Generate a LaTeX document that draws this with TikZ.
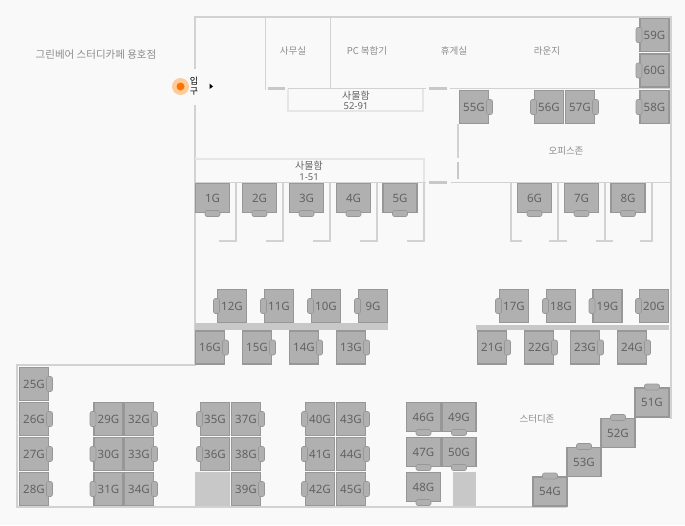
\documentclass[tikz,border=0pt]{standalone}
\usepackage{fontspec}
\setmainfont{Noto Sans}
\newfontfamily\krfont{Noto Sans CJK KR}
\definecolor{pagebg}{HTML}{F9F9F9}
\definecolor{wallcol}{HTML}{D2D2D2}
\definecolor{lightwall}{HTML}{E6E6E6}
\definecolor{blockcol}{HTML}{C8C8C8}
\definecolor{seatfill}{HTML}{B0B0B0}
\definecolor{seatline}{HTML}{979797}
\definecolor{seattext}{HTML}{626262}
\definecolor{roomtext}{HTML}{8C8C8C}
\begin{document}
\begin{tikzpicture}[x=1pt,y=-1pt,
wall/.style = {draw=wallcol, line width=1.5pt},
thinwall/.style = {draw=lightwall, line width=1.3pt},
doorstrip/.style = {draw=blockcol, line width=2.8pt},
block/.style = {fill=blockcol, draw=none},
chairbox/.style = {draw=seatline, fill=seatfill, line width=0.6pt, rounded corners=2pt, inner sep=0pt, outer sep=0pt},
seatw/.style = {draw=seatline, fill=seatfill, line width=1.2pt, inner sep=0pt, outer sep=0pt, minimum width=34pt, minimum height=29pt, text=seattext, font=\fontsize{11.5}{11.5}\selectfont},
seath/.style = {seatw, minimum width=29pt, minimum height=33pt},
chd/.style = {label={[chairbox, minimum width=15pt, minimum height=6pt, yshift=2pt]below:{}}},
chu/.style = {label={[chairbox, minimum width=15pt, minimum height=6pt, yshift=-2pt]above:{}}},
chl/.style = {label={[chairbox, minimum width=6pt, minimum height=15pt, xshift=2pt]left:{}}},
chr/.style = {label={[chairbox, minimum width=6pt, minimum height=15pt, xshift=-2pt]right:{}}},
room/.style = {text=roomtext, inner sep=0pt, font=\krfont\fontsize{9.5}{9.5}\selectfont},
locker/.style = {text=seattext, inner sep=0pt, font=\krfont\fontsize{10}{10}\selectfont},
lockernum/.style = {text=seattext, inner sep=0pt, font=\fontsize{9.5}{9.5}\selectfont},
]
\useasboundingbox (0,0) rectangle (685,525);
\fill[pagebg] (0,0) rectangle (685,525);

\draw[wall] (195,69)--(195,17)--(671,17)--(671,419);
\draw[wall] (195,105)--(195,365)--(17,365)--(17,507)--(567,507);
\draw[wall] (265.5,17)--(265.5,90);
\draw[wall] (330.5,17)--(330.5,88.5);
\draw[wall] (288,88.5)--(426,88.5);
\draw[wall] (450,88.5)--(671,88.5);
\draw[wall] (195,182.5)--(426,182.5);
\draw[wall] (451,182.5)--(671,182.5);
\draw[wall] (458,124)--(458,158);
\draw[thinwall] (288,89)--(288,111)--(423,111)--(423,89);
\draw[thinwall] (195,159)--(424,159)--(424,182);

\draw[doorstrip] (268,88.5)--(285,88.5);
\draw[doorstrip] (429,88.5)--(447,88.5);
\draw[doorstrip] (429,182.5)--(447,182.5);
\draw[doorstrip] (458,162)--(458,179);

\draw[wall] (236,183)--(236,241)--(219,241);
\draw[wall] (283,183)--(283,241)--(266,241);
\draw[wall] (330,183)--(330,241)--(313,241);
\draw[wall] (377,183)--(377,241)--(360,241);
\draw[wall] (424,183)--(424,241)--(407,241);
\draw[wall] (511,183)--(511,241)--(522,241);
\draw[wall] (558,183)--(558,241);
\draw[wall] (549,241)--(567,241);
\draw[wall] (605,183)--(605,241);
\draw[wall] (596,241)--(613,241);
\draw[wall] (652,183)--(652,241)--(640,241);

\fill[block] (195,323) rectangle (388,329.5);
\fill[block] (476,325) rectangle (669,330);
\fill[block] (195,472) rectangle (230,506);
\fill[block] (453,472) rectangle (476,506);

\node (G1) at (212.5,198)[seatw,chd] {1G};
\node (G2) at (259.5,198)[seatw,chd] {2G};
\node (G3) at (306.5,198)[seatw,chd] {3G};
\node (G4) at (353.5,198)[seatw,chd] {4G};
\node (G5) at (400,198)[seatw,chd] {5G};
\node (G6) at (534.5,198)[seatw,chd] {6G};
\node (G7) at (581.5,198)[seatw,chd] {7G};
\node (G8) at (628,198)[seatw,chd] {8G};

\node (G9) at (373,306)[seath,chl] {9G};
\node (G10) at (326,306)[seath,chl] {10G};
\node (G11) at (279,306)[seath,chl] {11G};
\node (G12) at (232,306)[seath,chl] {12G};
\node (G13) at (351,347.5)[seath,chr] {13G};
\node (G14) at (304,347.5)[seath,chr] {14G};
\node (G15) at (257,347.5)[seath,chr] {15G};
\node (G16) at (210,347.5)[seath,chr] {16G};
\node (G17) at (514,306)[seath,chl] {17G};
\node (G18) at (561,306)[seath,chl] {18G};
\node (G19) at (607.5,306)[seath,chl] {19G};
\node (G20) at (654,306)[seath,chl] {20G};
\node (G21) at (492,347.5)[seath,chr] {21G};
\node (G22) at (539,347.5)[seath,chr] {22G};
\node (G23) at (585,347.5)[seath,chr] {23G};
\node (G24) at (632,347.5)[seath,chr] {24G};

\node (G25) at (34,384)[seath,chr] {25G};
\node (G26) at (34,419)[seath,chr] {26G};
\node (G27) at (34,454)[seath,chr] {27G};
\node (G28) at (34,489)[seath,chr] {28G};
\node (G29) at (108.5,419)[seath,chl] {29G};
\node (G30) at (108.5,454)[seath,chl] {30G};
\node (G31) at (108.5,489)[seath,chl] {31G};
\node (G32) at (139,419)[seath,chr] {32G};
\node (G33) at (139,454)[seath,chr] {33G};
\node (G34) at (139,489)[seath,chr] {34G};
\node (G35) at (215,419)[seath,chl] {35G};
\node (G36) at (215,454)[seath,chl] {36G};
\node (G37) at (246,419)[seath,chr] {37G};
\node (G38) at (246,454)[seath,chr] {38G};
\node (G39) at (246,489)[seath,chr] {39G};
\node (G40) at (320,419)[seath,chl] {40G};
\node (G41) at (320,454)[seath,chl] {41G};
\node (G42) at (320,489)[seath,chl] {42G};
\node (G43) at (351,419)[seath,chr] {43G};
\node (G44) at (351,454)[seath,chr] {44G};
\node (G45) at (351,489)[seath,chr] {45G};
\node (G46) at (423.5,417)[seatw,chd] {46G};
\node (G47) at (423.5,452)[seatw,chd] {47G};
\node (G48) at (423.5,487)[seatw,chd] {48G};
\node (G49) at (459,417)[seatw,chd] {49G};
\node (G50) at (459,452)[seatw,chd] {50G};

\node (G51) at (652,402.5)[seatw,chu] {51G};
\node (G52) at (618,433)[seatw,chu] {52G};
\node (G53) at (584,462)[seatw,chu] {53G};
\node (G54) at (550,491.5)[seatw,chu] {54G};

\node (G55) at (474,107)[seath,chr] {55G};
\node (G56) at (549,107)[seath,chl] {56G};
\node (G57) at (580,107)[seath,chr] {57G};
\node (G58) at (654.5,107)[seath,chl] {58G};
\node (G59) at (654.5,35)[seath,chl] {59G};
\node (G60) at (654.5,70.5)[seath,chl] {60G};

\node (title) at (96,55)[room, font=\krfont\fontsize{10.5}{10.5}\selectfont] {그린베어 스터디카페 용호점};
\node (office) at (293,51)[room] {사무실};
\node (printer) at (367,51)[room] {PC 복합기};
\node (rest) at (454,51)[room] {휴게실};
\node (lounge) at (547,51)[room] {라운지};
\node (officezone) at (566,151)[room] {오피스존};
\node (studyzone) at (537,419)[room] {스터디존};
\node (lockerA) at (356,96)[locker] {사물함};
\node (lockerAnum) at (356,106)[lockernum] {52-91};
\node (lockerB) at (309,166)[locker] {사물함};
\node (lockerBnum) at (309,177)[lockernum] {1-51};

\fill[orange!40] (180.5,86.5) circle (8.5pt);
\fill[orange!90!red] (180.5,86.5) circle (4pt);
\node (door) at (194,86)[inner sep=0pt, align=center, font=\krfont\fontsize{9}{10.5}\selectfont] {입\\구};
\fill[black] (209.5,83.5)--(213,86.5)--(209.5,89)--cycle;
\end{tikzpicture}
\end{document}
